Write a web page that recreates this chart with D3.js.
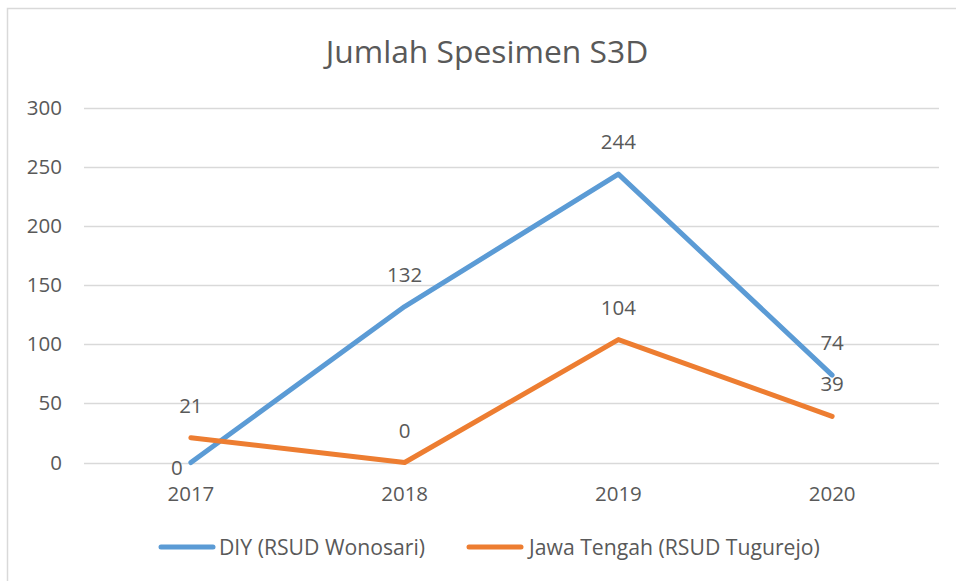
<!DOCTYPE html>
<html><head><meta charset="utf-8">
<script src="https://cdn.jsdelivr.net/npm/d3@7/dist/d3.min.js"></script>
<style>body{margin:0;background:#fff}svg{display:block}text{font-family:"Open Sans",sans-serif;fill:#595959}</style>
</head><body><svg id="c" width="956" height="581"></svg>
<script>
const title = "Jumlah Spesimen S3D";
const categories = ["2017","2018","2019","2020"];
const seriesNames = ["DIY (RSUD Wonosari)","Jawa Tengah (RSUD Tugurejo)"];
const diyValues = [0,132,244,74];
const jatengValues = [21,0,104,39];
const yTicks = [0,50,100,150,200,250,300];
const colors = ["#5b9bd5","#ed7d31"];

const svg = d3.select("#c");
svg.append("rect").attr("x",7.5).attr("y",8.5).attr("width",960).attr("height",590)
  .attr("fill","#fff").attr("stroke","#d9d9d9").attr("stroke-width",1.5);

const x = d3.scaleBand().domain(categories).range([84,939]);
const y = d3.scaleLinear().domain([0,300]).range([462.5,108]);

svg.append("text").attr("x",487).attr("y",62.5).attr("text-anchor","middle")
  .style("font-size","31.8px").text(title);

const g = svg.append("g");
g.selectAll("line.grid").data(yTicks).join("line").attr("class","grid")
  .attr("x1",84).attr("x2",939).attr("y1",d=>Math.round(y(d))+0.5).attr("y2",d=>Math.round(y(d))+0.5)
  .attr("stroke","#d9d9d9").attr("stroke-width",1.5);

const yAxis = svg.append("g").attr("transform","translate(62,0)")
  .call(d3.axisLeft(y).tickValues(yTicks).tickSize(0).tickPadding(0));
yAxis.select(".domain").remove();
yAxis.selectAll("text").style("font-size","20.5px").attr("fill","#595959").style("font-family","'Open Sans',sans-serif");

const xAxis = svg.append("g").attr("transform","translate(0,486)")
  .call(d3.axisBottom(x).tickSize(0).tickPadding(0));
xAxis.select(".domain").remove();
xAxis.selectAll("text").attr("dy","0.71em").style("font-size","20.5px").attr("fill","#595959").style("font-family","'Open Sans',sans-serif");

const allSeries = [diyValues, jatengValues];
const line = d3.line().x((d,i)=>x(categories[i])+x.bandwidth()/2).y(d=>y(d));
allSeries.forEach((vals,si)=>{
  svg.append("path").datum(vals).attr("d",line).attr("fill","none")
    .attr("stroke",colors[si]).attr("stroke-width",5).attr("stroke-linecap","round").attr("stroke-linejoin","round");
});
allSeries.forEach((vals,si)=>{
  svg.append("g").selectAll("text").data(vals).join("text")
    .attr("x",(d,i)=>x(categories[i])+x.bandwidth()/2 + ((si===0&&i===0)?-14:0))
    .attr("y",(d,i)=>(si===0&&i===0)? y(d)+12.5 : y(d)-25)
    .attr("text-anchor","middle").style("font-size","20.5px").text(d=>d);
});

// legend
const leg = [{x:161,tx:219},{x:469,tx:529}];
seriesNames.forEach((n,i)=>{
  svg.append("line").attr("x1",leg[i].x).attr("x2",leg[i].x+52).attr("y1",547).attr("y2",547)
    .attr("stroke",colors[i]).attr("stroke-width",5).attr("stroke-linecap","round");
  svg.append("text").attr("x",leg[i].tx).attr("y",554.5).style("font-size","21.2px").text(n);
});
</script></body></html>
